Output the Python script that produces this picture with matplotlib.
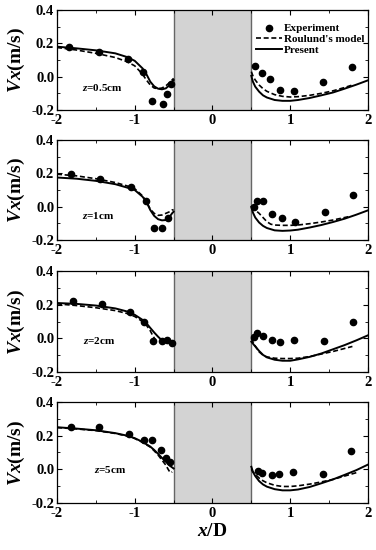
import matplotlib
matplotlib.use("Agg")
import matplotlib.pyplot as plt
from matplotlib.ticker import MultipleLocator

plt.rcParams['font.family'] = ['Liberation Serif', 'DejaVu Serif']
plt.rcParams['font.weight'] = 'bold'
plt.rcParams['mathtext.fontset'] = 'custom'
plt.rcParams['mathtext.rm'] = 'Liberation Serif:bold'
plt.rcParams['mathtext.bf'] = 'Liberation Serif:bold'
plt.rcParams['mathtext.it'] = 'Liberation Serif:bold:italic'

labels = ["0.5cm", "1cm", "2cm", "5cm"]

# Experiment points
exp_x = [
    [-1.84, -1.46, -1.09, -0.90, -0.774, -0.64, -0.58, -0.534, 0.547, 0.64, 0.743, 0.868, 1.048, 1.425, 1.80],
    [-1.82, -1.45, -1.05, -0.855, -0.756, -0.65, -0.57, 0.54, 0.57, 0.65, 0.76, 0.90, 1.06, 1.45, 1.81],
    [-1.80, -1.42, -1.06, -0.88, -0.77, -0.65, -0.59, -0.52, 0.53, 0.57, 0.65, 0.77, 0.87, 1.05, 1.43, 1.81],
    [-1.82, -1.46, -1.07, -0.885, -0.78, -0.66, -0.60, -0.546, 0.59, 0.64, 0.76, 0.855, 1.03, 1.42, 1.78],
]
exp_y = [
    [0.178, 0.148, 0.104, 0.030, -0.146, -0.164, -0.104, -0.046, 0.066, 0.020, -0.012, -0.080, -0.086, -0.034, 0.058],
    [0.198, 0.168, 0.116, 0.032, -0.125, -0.125, -0.068, 0.000, 0.034, 0.034, -0.042, -0.068, -0.092, -0.034, 0.068],
    [0.223, 0.204, 0.156, 0.095, -0.017, -0.017, -0.010, -0.025, 0.011, 0.029, 0.014, -0.010, -0.024, -0.010, -0.017, 0.096],
    [0.253, 0.250, 0.208, 0.174, 0.174, 0.115, 0.065, 0.041, -0.009, -0.020, -0.036, -0.030, -0.013, -0.028, 0.108],
]

# Present model (solid), upstream and downstream
pres_up_x = [
    [-2.0, -1.75, -1.5, -1.25, -1.1, -1.0, -0.9, -0.85, -0.8, -0.75, -0.7, -0.65, -0.6, -0.55, -0.52, -0.5],
    [-2.0, -1.75, -1.5, -1.25, -1.1, -1.0, -0.9, -0.85, -0.8, -0.75, -0.7, -0.65, -0.6, -0.55, -0.52, -0.5],
    [-2.0, -1.75, -1.5, -1.25, -1.1, -1.0, -0.9, -0.85, -0.8, -0.75, -0.7, -0.65],
    [-2.0, -1.75, -1.5, -1.25, -1.1, -1.0, -0.9, -0.8, -0.75, -0.7, -0.65, -0.6, -0.55, -0.5],
]
pres_up_y = [
    [0.180, 0.170, 0.158, 0.140, 0.118, 0.095, 0.050, 0.015, -0.030, -0.058, -0.072, -0.076, -0.070, -0.050, -0.030, -0.020],
    [0.175, 0.168, 0.155, 0.135, 0.115, 0.100, 0.060, 0.030, -0.020, -0.055, -0.075, -0.082, -0.080, -0.060, -0.040, -0.030],
    [0.210, 0.205, 0.195, 0.178, 0.160, 0.140, 0.110, 0.090, 0.062, 0.035, 0.010, -0.012],
    [0.250, 0.242, 0.232, 0.215, 0.200, 0.185, 0.163, 0.135, 0.115, 0.092, 0.068, 0.045, 0.022, 0.005],
]
pres_dn_x = [
    [0.5, 0.52, 0.55, 0.6, 0.65, 0.7, 0.8, 0.9, 1.0, 1.1, 1.25, 1.4, 1.55, 1.7, 1.85, 2.0],
    [0.5, 0.52, 0.55, 0.6, 0.65, 0.7, 0.8, 0.9, 1.0, 1.1, 1.25, 1.4, 1.55, 1.7, 1.85, 2.0],
    [0.5, 0.55, 0.6, 0.65, 0.7, 0.8, 0.9, 1.0, 1.1, 1.25, 1.4, 1.55, 1.7, 1.85, 2.0],
    [0.5, 0.52, 0.55, 0.6, 0.65, 0.7, 0.8, 0.9, 1.0, 1.1, 1.25, 1.4, 1.55, 1.7, 1.85, 2.0],
]
pres_dn_y = [
    [0.005, -0.030, -0.060, -0.090, -0.112, -0.125, -0.140, -0.145, -0.145, -0.140, -0.128, -0.112, -0.095, -0.072, -0.048, -0.022],
    [0.000, -0.035, -0.065, -0.095, -0.115, -0.128, -0.142, -0.145, -0.143, -0.138, -0.125, -0.110, -0.092, -0.072, -0.048, -0.022],
    [-0.020, -0.048, -0.075, -0.098, -0.113, -0.127, -0.133, -0.133, -0.125, -0.110, -0.090, -0.065, -0.040, -0.012, 0.018],
    [0.015, -0.015, -0.040, -0.070, -0.090, -0.103, -0.118, -0.125, -0.125, -0.120, -0.105, -0.083, -0.060, -0.033, -0.005, 0.028],
]

# Roulund's model (dashed)
roul_up_x = [
    [-2.0, -1.75, -1.5, -1.25, -1.1, -1.0, -0.95, -0.9, -0.85, -0.8, -0.75, -0.7, -0.65, -0.6, -0.55, -0.52, -0.5],
    [-2.0, -1.75, -1.5, -1.25, -1.1, -1.0, -0.9, -0.85, -0.8, -0.75, -0.7, -0.65, -0.6, -0.55, -0.52, -0.5],
    [-2.0, -1.75, -1.5, -1.25, -1.1, -1.0, -0.9, -0.85, -0.8, -0.77, -0.74, -0.72],
    [-2.0, -1.75, -1.5, -1.25, -1.1, -1.0, -0.9, -0.8, -0.75, -0.7, -0.65, -0.6, -0.57, -0.55, -0.53, -0.52],
]
roul_up_y = [
    [0.175, 0.160, 0.140, 0.115, 0.090, 0.065, 0.040, 0.015, -0.020, -0.050, -0.068, -0.072, -0.068, -0.055, -0.035, -0.020, -0.010],
    [0.195, 0.185, 0.168, 0.145, 0.125, 0.108, 0.065, 0.030, -0.015, -0.040, -0.052, -0.050, -0.040, -0.030, -0.020, -0.018],
    [0.205, 0.195, 0.182, 0.165, 0.148, 0.130, 0.100, 0.078, 0.045, 0.018, -0.005, -0.020],
    [0.248, 0.240, 0.230, 0.213, 0.198, 0.183, 0.160, 0.132, 0.110, 0.085, 0.055, 0.025, 0.000, -0.015, -0.020, -0.015],
]
roul_dn_x = [
    [0.5, 0.52, 0.55, 0.6, 0.65, 0.7, 0.8, 0.9, 1.0, 1.1, 1.25, 1.4, 1.55, 1.7, 1.8],
    [0.5, 0.52, 0.55, 0.6, 0.65, 0.7, 0.75, 0.8, 0.9, 1.0, 1.1, 1.25, 1.4, 1.55, 1.75],
    [0.5, 0.52, 0.55, 0.6, 0.65, 0.7, 0.8, 0.9, 1.0, 1.1, 1.25, 1.4, 1.55, 1.7, 1.8],
    [0.5, 0.52, 0.55, 0.6, 0.65, 0.7, 0.8, 0.9, 1.0, 1.1, 1.25, 1.4, 1.55, 1.7, 1.85],
]
roul_dn_y = [
    [0.030, 0.005, -0.020, -0.050, -0.072, -0.088, -0.108, -0.118, -0.122, -0.120, -0.112, -0.100, -0.085, -0.065, -0.050],
    [0.000, -0.010, -0.020, -0.040, -0.065, -0.090, -0.105, -0.110, -0.112, -0.112, -0.110, -0.102, -0.092, -0.080, -0.060],
    [0.000, -0.020, -0.045, -0.080, -0.100, -0.110, -0.118, -0.120, -0.120, -0.118, -0.108, -0.093, -0.078, -0.060, -0.048],
    [0.000, -0.015, -0.030, -0.052, -0.068, -0.080, -0.095, -0.102, -0.102, -0.098, -0.088, -0.075, -0.060, -0.040, -0.020],
]

pier_left, pier_right = -0.5, 0.5

# layout (positions of the z annotations in data coords)
label_pos = [(-1.68, -0.065), (-1.68, -0.05), (-1.67, -0.015), (-1.53, 0.0)]

fig = plt.figure(figsize=(3.76, 5.5), dpi=100)
bottoms = [0.800, 0.5636, 0.3236, 0.0855]
heights = [0.1818, 0.1818, 0.1836, 0.1836]

for i in range(4):
    ax = fig.add_axes([0.1516, bottoms[i], 0.827, heights[i]])
    ax.axvspan(pier_left, pier_right, facecolor='#d3d3d3', edgecolor='none', zorder=0)
    ax.axvline(pier_left, color='#666666', lw=1.0, zorder=1)
    ax.axvline(pier_right, color='#666666', lw=1.0, zorder=1)
    ax.plot(exp_x[i], exp_y[i], 'o', color='black', ms=4.5, zorder=4, label='Experiment')
    ax.plot(roul_up_x[i], roul_up_y[i], '--', color='black', lw=1.2, dashes=(3, 1.6), zorder=3, label="Roulund's model")
    ax.plot(roul_dn_x[i], roul_dn_y[i], '--', color='black', lw=1.2, dashes=(3, 1.6), zorder=3)
    ax.plot(pres_up_x[i], pres_up_y[i], '-', color='black', lw=1.4, zorder=3, label='Present')
    ax.plot(pres_dn_x[i], pres_dn_y[i], '-', color='black', lw=1.4, zorder=3)
    ax.set_xlim(-2, 2)
    ax.set_ylim(-0.2, 0.4)
    ax.set_xticks([-2, -1, 0, 1, 2])
    ax.set_xticklabels(['-2', '-1', '0', '1', '2'])
    ax.set_yticks([-0.2, 0.0, 0.2, 0.4])
    ax.set_yticklabels(['-0.2', '0.0', '0.2', '0.4'])
    ax.xaxis.set_minor_locator(MultipleLocator(0.5))
    ax.yaxis.set_minor_locator(MultipleLocator(0.1))
    ax.tick_params(which='both', direction='in', top=True, right=True, labelsize=10.5)
    ax.tick_params(axis='x', pad=3)
    ax.tick_params(axis='y', pad=2)
    ax.tick_params(which='major', length=3.5, width=0.8)
    ax.tick_params(which='minor', length=2, width=0.6)
    for lab in ax.get_xticklabels() + ax.get_yticklabels():
        lab.set_fontweight('bold')
    ax.get_yticklabels()[0].set_verticalalignment('center_baseline')
    for s in ax.spines.values():
        s.set_linewidth(0.9)
    ax.set_ylabel(r'$\mathit{Vx}$(m/s)', fontsize=14, fontweight='bold', labelpad=3)
    ax.text(label_pos[i][0], label_pos[i][1], r'$\mathit{z}$=' + labels[i], fontsize=8, fontweight='bold',
            va='center', ha='left')
    if i == 0:
        ax.legend(loc='upper right', bbox_to_anchor=(1.01, 0.93), frameon=False,
                  handlelength=2.3, handletextpad=0.2, labelspacing=0.1, borderaxespad=0.2,
                  prop={'weight': 'bold', 'size': 8})
    if i == 3:
        ax.set_xlabel(r'$\mathit{x}$/D', fontsize=14, fontweight='bold', labelpad=2)

fig.savefig('out.png', dpi=100)
